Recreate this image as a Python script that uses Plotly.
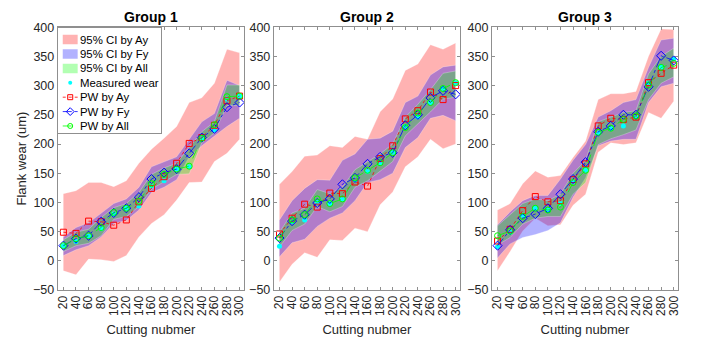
import plotly.graph_objects as go

cutting = [20, 40, 60, 80, 100, 120, 140, 160, 180, 200, 220, 240, 260, 280, 300]
x_ticks = cutting

# ---------------- Group 1 ----------------
g1_measured = [26, 33, 42, 55, 80, 90, 94, 128, 137, 157, 161, 208, 224, 277, 282]
g1_pw_ay = [49, 47, 68, 67, 61, 70, 101, 124, 144, 167, 201, 211, 232, 274, 282]
g1_pw_fy = [26, 38, 43, 67, 82, 90, 109, 140, 151, 157, 184, 211, 226, 263, 271]
g1_pw_all = [26, 38, 43, 57, 83, 90, 102, 132, 148, 157, 162, 210, 233, 281, 282]
g1_ay_hi = [115, 120, 134, 134, 127, 137, 167, 191, 210, 230, 271, 279, 304, 362, 356]
g1_ay_lo = [-17, -24, 3, 2, -1, 9, 41, 64, 79, 104, 134, 135, 170, 184, 208]
g1_fy_hi = [41, 57, 65, 82, 98, 106, 126, 161, 170, 178, 208, 238, 252, 309, 300]
g1_fy_lo = [9, 19, 26, 41, 64, 69, 87, 117, 126, 139, 178, 197, 213, 230, 244]
g1_all_hi = [36, 49, 54, 74, 91, 98, 117, 148, 159, 167, 194, 221, 238, 301, 301]
g1_all_lo = [16, 26, 30, 43, 71, 76, 93, 123, 135, 148, 149, 202, 219, 266, 266]

# ---------------- Group 2 ----------------
g2_measured = [25, 67, 70, 100, 98, 106, 139, 153, 168, 186, 230, 246, 271, 295, 305]
g2_pw_ay = [46, 73, 97, 92, 116, 115, 135, 128, 175, 197, 243, 257, 289, 276, 300]
g2_pw_fy = [39, 68, 79, 99, 106, 131, 142, 166, 178, 185, 232, 250, 279, 291, 285]
g2_pw_all = [39, 70, 79, 106, 98, 106, 142, 155, 168, 185, 228, 253, 271, 295, 305]
g2_ay_hi = [131, 153, 179, 181, 197, 194, 213, 208, 255, 277, 326, 337, 370, 362, 373]
g2_ay_lo = [-36, -6, 14, 6, 36, 35, 56, 50, 96, 118, 161, 178, 208, 192, 200]
g2_fy_hi = [70, 103, 124, 139, 138, 172, 183, 208, 210, 222, 271, 282, 318, 332, 335]
g2_fy_lo = [7, 31, 37, 59, 73, 82, 103, 134, 139, 150, 194, 211, 244, 249, 240]
g2_all_hi = [49, 82, 90, 122, 115, 126, 156, 170, 183, 200, 246, 268, 293, 321, 325]
g2_all_lo = [24, 52, 63, 93, 84, 93, 126, 137, 153, 170, 214, 235, 255, 277, 280]

# ---------------- Group 3 ----------------
g3_measured = [24, 49, 78, 90, 87, 98, 136, 155, 219, 226, 231, 248, 304, 332, 345]
g3_pw_ay = [34, 54, 86, 110, 101, 103, 139, 166, 231, 244, 242, 246, 305, 321, 335]
g3_pw_fy = [26, 53, 73, 80, 90, 114, 140, 169, 221, 231, 250, 250, 298, 351, 343]
g3_pw_all = [43, 51, 76, 90, 87, 92, 134, 155, 220, 227, 242, 248, 301, 331, 338]
g3_ay_hi = [87, 98, 132, 154, 143, 146, 177, 205, 276, 286, 286, 290, 350, 397, 396]
g3_ay_lo = [-17, 16, 51, 73, 60, 62, 95, 114, 186, 202, 199, 202, 254, 244, 273]
g3_fy_hi = [62, 84, 103, 112, 112, 140, 172, 199, 246, 257, 271, 276, 331, 378, 381]
g3_fy_lo = [5, 29, 40, 45, 52, 65, 109, 142, 197, 205, 208, 208, 271, 298, 304]
g3_all_hi = [60, 79, 98, 106, 103, 114, 150, 172, 238, 246, 254, 257, 320, 350, 364]
g3_all_lo = [27, 40, 63, 73, 76, 76, 114, 134, 199, 209, 216, 224, 276, 304, 315]

group_titles = ["Group 1", "Group 2", "Group 3"]
legend_labels = ["95% CI by Ay", "95% CI by Fy", "95% CI by All", "Measured wear",
                 "PW by Ay", "PW by Fy", "PW by All"]

groups = [
    (g1_measured, g1_pw_ay, g1_pw_fy, g1_pw_all,
     (g1_ay_hi, g1_ay_lo), (g1_fy_hi, g1_fy_lo), (g1_all_hi, g1_all_lo)),
    (g2_measured, g2_pw_ay, g2_pw_fy, g2_pw_all,
     (g2_ay_hi, g2_ay_lo), (g2_fy_hi, g2_fy_lo), (g2_all_hi, g2_all_lo)),
    (g3_measured, g3_pw_ay, g3_pw_fy, g3_pw_all,
     (g3_ay_hi, g3_ay_lo), (g3_fy_hi, g3_fy_lo), (g3_all_hi, g3_all_lo)),
]

FONT = "Liberation Sans, Arial, Helvetica, sans-serif"
TXT = "#262626"
AXLINE = "#8f8f8f"
W, H = 702, 346

# Plot-area boxes in pixels
x_boxes = [(57, 244), (274, 461), (493, 680)]
y_top, y_bot = 21, 295

band_fill = ["rgba(255,0,0,0.3)", "rgba(0,0,255,0.3)", "rgba(0,255,0,0.3)"]
band_edge = "rgba(255,255,255,0.45)"
meas_style = dict(symbol="circle", size=5, color="#00FFFF")
line_styles = [
    (dict(color="#FF0000", width=0.8, dash="dot"),
     dict(symbol="square-open", size=6, color="#FF0000", line=dict(width=1))),
    (dict(color="#0000FF", width=0.8, dash="dashdot"),
     dict(symbol="diamond-open", size=7, color="#0000FF", line=dict(width=1))),
    (dict(color="#00FF00", width=0.8, dash="dash"),
     dict(symbol="circle-open", size=6, color="#00FF00", line=dict(width=1))),
]

fig = go.Figure()

for gi, (meas, pay, pfy, pall, b_ay, b_fy, b_all) in enumerate(groups):
    xa = "x" if gi == 0 else f"x{gi + 1}"
    ya = "y" if gi == 0 else f"y{gi + 1}"
    for fc, (hi, lo) in zip(band_fill, [b_ay, b_fy, b_all]):
        fig.add_trace(go.Scatter(
            x=cutting + cutting[::-1], y=hi + lo[::-1],
            fill="toself", fillcolor=fc, mode="lines",
            line=dict(width=0.6, color=band_edge),
            xaxis=xa, yaxis=ya, hoverinfo="skip",
        ))
    fig.add_trace(go.Scatter(x=cutting, y=meas, mode="markers", marker=meas_style,
                             xaxis=xa, yaxis=ya))
    for series, (ls, ms) in zip([pay, pfy, pall], line_styles):
        fig.add_trace(go.Scatter(x=cutting, y=series, mode="lines+markers",
                                 line=ls, marker=ms, xaxis=xa, yaxis=ya))

# ---------- legend box drawn on its own small axis (pixel units) ----------
leg_l, leg_r, leg_t, leg_b = 57, 161, 22, 131
leg_w = leg_r - leg_l
n_rows = len(legend_labels)
sym_x0, sym_x1 = 5, 20
rows = list(range(n_rows))

# white background of the legend box
fig.add_trace(go.Scatter(x=[0, leg_w, leg_w, 0, 0], y=[-1, -1, n_rows, n_rows, -1],
                         fill="toself", fillcolor="white", mode="lines",
                         line=dict(width=0), xaxis="x4", yaxis="y4", hoverinfo="skip"))
for r, fc in zip(rows[:3], band_fill):
    fig.add_trace(go.Scatter(
        x=[sym_x0, sym_x1, sym_x1, sym_x0, sym_x0],
        y=[r - 0.33, r - 0.33, r + 0.33, r + 0.33, r - 0.33],
        fill="toself", fillcolor=fc, mode="lines", line=dict(width=0),
        xaxis="x4", yaxis="y4", hoverinfo="skip"))
fig.add_trace(go.Scatter(x=[(sym_x0 + sym_x1) / 2], y=[rows[3]], mode="markers",
                         marker=dict(symbol="circle", size=4, color="#00FFFF"),
                         xaxis="x4", yaxis="y4"))
for r, (ls, ms) in zip(rows[4:], line_styles):
    fig.add_trace(go.Scatter(x=[sym_x0, sym_x1], y=[r, r], mode="lines",
                             line=ls, xaxis="x4", yaxis="y4"))
    fig.add_trace(go.Scatter(x=[(sym_x0 + sym_x1) / 2], y=[r], mode="markers",
                             marker=dict(ms, size=ms["size"] - 1), xaxis="x4", yaxis="y4"))

layout_axes = {}
for gi, (xl, xr) in enumerate(x_boxes):
    sfx = "" if gi == 0 else str(gi + 1)
    layout_axes[f"xaxis{sfx}"] = dict(
        domain=[xl / W, xr / W], anchor=f"y{sfx}", range=[11, 307],
        tickmode="array", tickvals=x_ticks, ticktext=[str(v) for v in x_ticks],
        tickangle=-90, ticks="inside", ticklen=3, tickcolor=AXLINE,
        showline=True, linecolor=AXLINE, linewidth=1, mirror="ticks",
        showgrid=False, zeroline=False,
        tickfont=dict(family=FONT, size=12, color=TXT),
        title=dict(text="Cutting nubmer", font=dict(family=FONT, size=13, color=TXT), standoff=10),
    )
    layout_axes[f"yaxis{sfx}"] = dict(
        domain=[1 - y_bot / H, 1 - y_top / H], anchor=f"x{sfx}", range=[-50, 400],
        tickmode="array", tickvals=list(range(-50, 401, 50)),
        ticks="inside", ticklen=3, tickcolor=AXLINE,
        showline=True, linecolor=AXLINE, linewidth=1, mirror="ticks",
        showgrid=False, zeroline=False,
        tickfont=dict(family=FONT, size=12.5, color=TXT),
    )
layout_axes["yaxis"]["title"] = dict(text="Flank wear (um)",
                                     font=dict(family=FONT, size=13, color=TXT), standoff=3)

# legend axis: x in pixels across the box, y in row units
row_px = 15.0
top_pad = (34 - leg_t) / row_px
layout_axes["xaxis4"] = dict(domain=[leg_l / W, leg_r / W], anchor="y4", range=[0, leg_w],
                             showline=True, linecolor=AXLINE, linewidth=1, mirror=True,
                             showticklabels=False, ticks="", showgrid=False, zeroline=False,
                             fixedrange=True)
layout_axes["yaxis4"] = dict(domain=[1 - leg_b / H, 1 - leg_t / H], anchor="x4",
                             range=[-top_pad + (leg_b - leg_t) / row_px, -top_pad],
                             showline=True, linecolor=AXLINE, linewidth=1, mirror=True,
                             showticklabels=False, ticks="", showgrid=False, zeroline=False,
                             fixedrange=True)

annotations = []
for gi, (xl, xr) in enumerate(x_boxes):
    annotations.append(dict(
        text=f"<b>{group_titles[gi]}</b>", x=(xl + xr) / 2 / W, y=1 - 10 / H,
        xref="paper", yref="paper", showarrow=False, xanchor="center", yanchor="middle",
        font=dict(family=FONT, size=14, color="#000000"),
    ))
for r, label in zip(rows, legend_labels):
    annotations.append(dict(
        text=label, x=sym_x1 + 0.5, y=r, xref="x4", yref="y4", showarrow=False,
        xanchor="left", yanchor="middle", font=dict(family=FONT, size=11.4, color="#000000"),
    ))

fig.update_layout(
    width=W, height=H, margin=dict(l=0, r=0, t=0, b=0),
    paper_bgcolor="white", plot_bgcolor="rgba(0,0,0,0)",
    font=dict(family=FONT, color=TXT),
    showlegend=False,
    annotations=annotations,
    **layout_axes,
)

fig.write_html("out.html")
